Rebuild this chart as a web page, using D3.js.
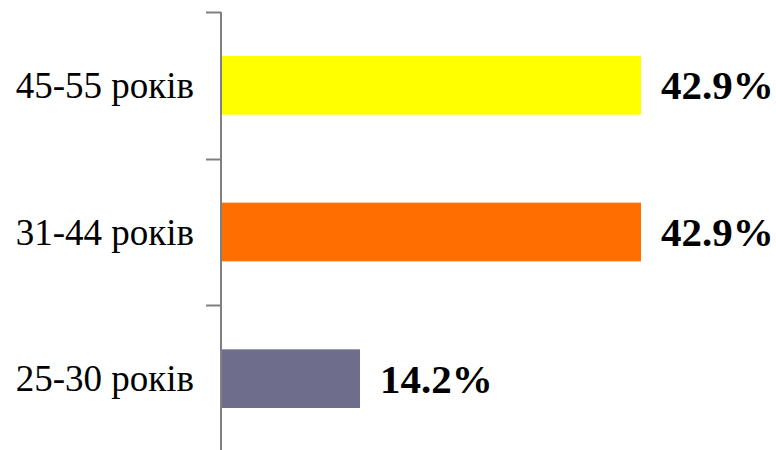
<!DOCTYPE html>
<html><head><meta charset="utf-8">
<script src="https://cdn.jsdelivr.net/npm/d3@7"></script>
<style>html,body{margin:0;padding:0;background:#fff;}svg{display:block;}</style>
</head><body>
<svg id="c" width="776" height="450"></svg>
<script>
const categories = ["45-55 років", "31-44 років", "25-30 років"];
const values = [42.9, 42.9, 14.2];
const valueLabels = ["42.9%", "42.9%", "14.2%"];
const colors = ["#FFFF00", "#FF6E00", "#6E6E8C"];

const svg = d3.select("#c");
const x0 = 221, yTop = 12, yBottom = 452;
const x = d3.scaleLinear().domain([0, 42.9]).range([x0, 641]);
const y = d3.scaleBand().domain(categories).range([yTop, yBottom]).paddingInner(0.6).paddingOuter(0.3);
const yTicks = d3.scaleBand().domain(categories).range([yTop, yBottom]);
const serif = '"Liberation Serif", "Times New Roman", Times, serif';

// bars
svg.selectAll("rect.bar").data(categories).join("rect")
  .attr("class","bar")
  .attr("x", x(0)+1)
  .attr("y", d => y(d))
  .attr("width", (d,i) => x(values[i]) - x(0) - 1)
  .attr("height", y.bandwidth())
  .attr("fill", (d,i) => colors[i]);

// axis
const g = svg.append("g");
g.append("line").attr("x1", x0).attr("x2", x0).attr("y1", yTop).attr("y2", 450)
  .attr("stroke", "#808080").attr("stroke-width", 2);
const tickYs = categories.map(c => yTicks(c));
g.selectAll("line.tick").data(tickYs).join("line")
  .attr("class","tick")
  .attr("x1", 206).attr("x2", x0).attr("y1", d => Math.round(d)+0.5).attr("y2", d => Math.round(d)+0.5)
  .attr("stroke", "#808080").attr("stroke-width", 2);

// category labels
g.selectAll("text.cat").data(categories).join("text")
  .attr("class","cat")
  .attr("x", 194)
  .attr("y", d => yTicks(d) + yTicks.bandwidth()/2 + 12.5)
  .attr("text-anchor","end")
  .style("font-family", serif)
  .style("font-size", "37px")
  .attr("fill","#000")
  .text(d => d);

// value labels
svg.selectAll("text.val").data(categories).join("text")
  .attr("class","val")
  .attr("x", (d,i) => x(values[i]) + 20)
  .attr("y", d => y(d) + y.bandwidth()/2 + 14)
  .style("font-family", serif)
  .style("font-weight","bold")
  .style("font-size", "41px")
  .attr("fill","#000")
  .text((d,i) => valueLabels[i]);
</script>
</body></html>
